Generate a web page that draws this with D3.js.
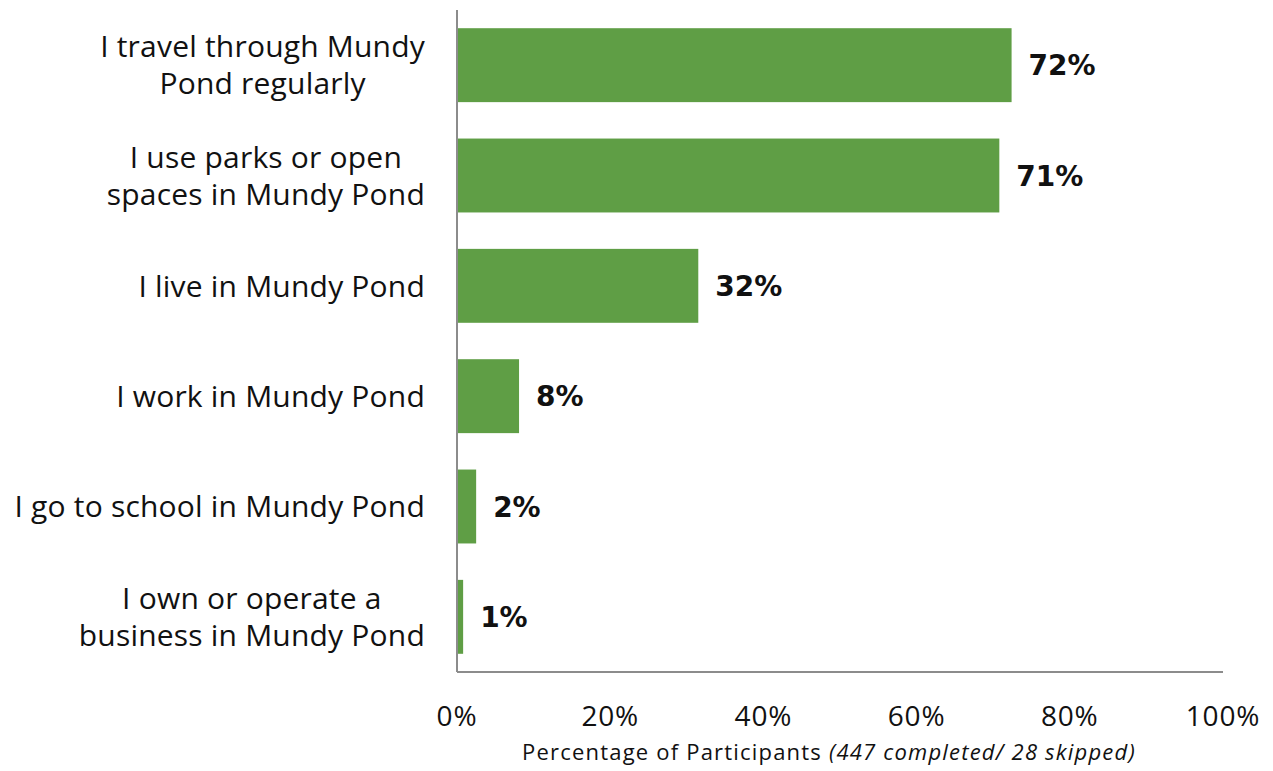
<!DOCTYPE html>
<html><head><meta charset="utf-8">
<script src="https://cdn.jsdelivr.net/npm/d3@7"></script>
<style>body{margin:0;background:#fff;} svg{display:block;}</style>
</head><body>
<svg id="c" width="1273" height="771"></svg>
<script>
const categories = [
  ["I travel through Mundy", "Pond regularly"],
  ["I use parks or open", "spaces in Mundy Pond"],
  ["I live in Mundy Pond"],
  ["I work in Mundy Pond"],
  ["I go to school in Mundy Pond"],
  ["I own or operate a", "business in Mundy Pond"]
];
const values = [72.4, 70.8, 31.5, 8.1, 2.5, 0.8];
const valueLabels = ["72%", "71%", "32%", "8%", "2%", "1%"];
const ticks = [0, 20, 40, 60, 80, 100];
const axisTitle = "Percentage of Participants";
const axisNote = "(447 completed/ 28 skipped)";

(function () {
const svg = d3.select("#c");
const mLeft = 457, mRight = 1223, mTop = 10, mBottom = 672;
const x = d3.scaleLinear().domain([0, 100]).range([mLeft, mRight]);
const y = d3.scaleBand().domain(d3.range(categories.length)).range([mTop, mBottom]).paddingInner(0.33).paddingOuter(0.165);
const font = "'Open Sans', 'Noto Sans', sans-serif";

svg.selectAll("rect.bar").data(values).enter().append("rect")
  .attr("x", x(0)).attr("y", (d, i) => y(i))
  .attr("width", d => x(d) - x(0)).attr("height", y.bandwidth())
  .attr("fill", "#5f9e45");

svg.append("line").attr("x1", mLeft).attr("x2", mLeft).attr("y1", mTop).attr("y2", mBottom)
  .attr("stroke", "#8c8c8c").attr("stroke-width", 2);
svg.append("line").attr("x1", mLeft).attr("x2", mRight).attr("y1", mBottom).attr("y2", mBottom)
  .attr("stroke", "#8c8c8c").attr("stroke-width", 2);

svg.selectAll("text.val").data(values).enter().append("text")
  .attr("x", d => x(d) + 17).attr("y", (d, i) => y(i) + y.bandwidth() / 2)
  .attr("dy", "0.36em")
  .attr("font-family", "'DejaVu Sans', sans-serif").attr("font-weight", "bold").attr("font-size", 28)
  .attr("fill", "#111").text((d, i) => valueLabels[i]);

categories.forEach((lines, i) => {
  const cy = y(i) + y.bandwidth() / 2;
  const lh = 37;
  const t = svg.append("text").attr("text-anchor", "middle")
    .attr("font-family", font).attr("font-size", 30).attr("letter-spacing", 0.2).attr("fill", "#111");
  const spans = lines.map((ln, j) => t.append("tspan")
      .attr("y", cy + (j - (lines.length - 1) / 2) * lh).attr("dy", "0.36em").text(ln));
  const maxW = d3.max(spans, s => s.node().getComputedTextLength());
  spans.forEach(s => s.attr("x", 425 - maxW / 2));
});

svg.selectAll("text.tick").data(ticks).enter().append("text")
  .attr("x", d => x(d)).attr("y", 716).attr("dy", "0.36em")
  .attr("text-anchor", "middle").attr("font-family", font).attr("font-size", 28).attr("letter-spacing", 0.8).attr("fill", "#111")
  .text(d => d + "%");

const at = svg.append("text").attr("x", 522).attr("y", 752).attr("dy", "0.36em")
  .attr("text-anchor", "start").attr("font-family", font).attr("font-size", 22).attr("letter-spacing", 1.2).attr("fill", "#111");
at.append("tspan").text(axisTitle + "  ");
at.append("tspan").attr("font-style", "italic").text(axisNote);
})();
</script>
</body></html>
